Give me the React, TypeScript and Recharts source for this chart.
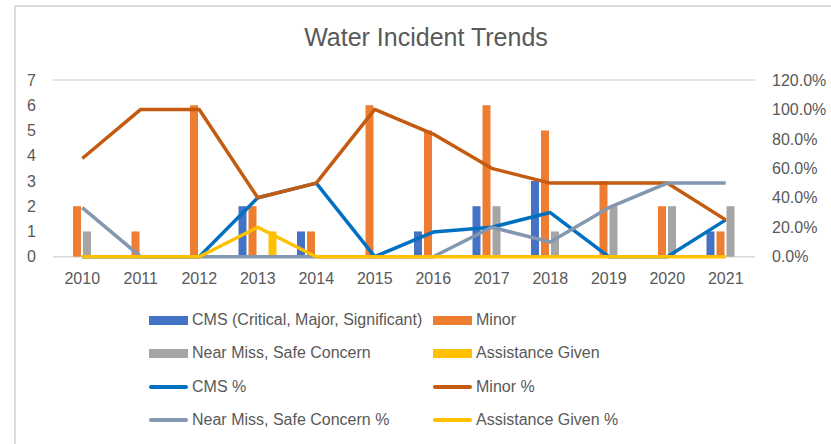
import React from 'react';
import { ComposedChart, Bar, Line, XAxis, YAxis, CartesianGrid } from 'recharts';

const fontFamily = '"Liberation Sans", Arial, sans-serif';
const textColor = "#595959";
const gridColor = "#d9d9d9";

const years = ["2010", "2011", "2012", "2013", "2014", "2015", "2016", "2017", "2018", "2019", "2020", "2021"];
const cms = [0, 0, 0, 2, 1, 0, 1, 2, 3, 0, 0, 1];
const minor = [2, 1, 6, 2, 1, 6, 5, 6, 5, 3, 2, 1];
const nearMiss = [1, 0, 0, 0, 0, 0, 0, 2, 1, 2, 2, 2];
const assistance = [0, 0, 0, 1, 0, 0, 0, 0, 0, 0, 0, 0];
const cmsPct = [0, 0, 0, 0.4, 0.5, 0, 0.167, 0.2, 0.3, 0, 0, 0.25];
const minorPct = [0.667, 1, 1, 0.4, 0.5, 1, 0.833, 0.6, 0.5, 0.5, 0.5, 0.25];
const nearMissPct = [0.333, 0, 0, 0, 0, 0, 0, 0.2, 0.1, 0.333, 0.5, 0.5];
const assistancePct = [0, 0, 0, 0.2, 0, 0, 0, 0, 0, 0, 0, 0];

const countTicks = [0, 1, 2, 3, 4, 5, 6, 7];
const pctTicks = [0, 0.2, 0.4, 0.6, 0.8, 1.0, 1.2];

const data = years.map((year, i) => ({
  year,
  cms: cms[i],
  minor: minor[i],
  nearMiss: nearMiss[i],
  assistance: assistance[i],
  cmsPct: cmsPct[i],
  minorPct: minorPct[i],
  nearMissPct: nearMissPct[i],
  assistancePct: assistancePct[i],
}));

const series = [
  { key: "cms", name: "CMS (Critical, Major, Significant)", color: "#4472C4", kind: "bar" },
  { key: "minor", name: "Minor", color: "#ED7D31", kind: "bar" },
  { key: "nearMiss", name: "Near Miss, Safe Concern", color: "#A5A5A5", kind: "bar" },
  { key: "assistance", name: "Assistance Given", color: "#FFC000", kind: "bar" },
  { key: "cmsPct", name: "CMS %", color: "#0070C0", kind: "line" },
  { key: "minorPct", name: "Minor %", color: "#C55A11", kind: "line" },
  { key: "nearMissPct", name: "Near Miss, Safe Concern %", color: "#8497B0", kind: "line" },
  { key: "assistancePct", name: "Assistance Given %", color: "#FFC000", kind: "line" },
];

const tickStyle = { fill: textColor, fontSize: 16, fontFamily };

const LegendBlock = () => (
  <div style={{ position: 'absolute', left: 0, top: 0 }}>
    {series.map((s, i) => {
      const row = Math.floor(i / 2);
      const col = i % 2;
      const cy = [320, 353, 387, 420][row];
      const iconLeft = col === 0 ? 149 : 433;
      const textLeft = col === 0 ? 192 : 476;
      const isLine = s.kind === "line";
      const h = isLine ? 4 : 9;
      return (
        <React.Fragment key={s.key}>
          <div style={{
            position: 'absolute', left: iconLeft, top: cy - h / 2, width: 39, height: h,
            background: s.color, borderRadius: isLine ? 2 : 0,
          }} />
          <div style={{
            position: 'absolute', left: textLeft, top: cy - 10, height: 20, lineHeight: '20px',
            fontSize: 16, color: textColor, whiteSpace: 'nowrap', fontFamily,
          }}>{s.name}</div>
        </React.Fragment>
      );
    })}
  </div>
);

export default function App() {
  return (
    <div style={{ position: 'absolute', left: 0, top: 0, width: 831, height: 444, background: '#fff', overflow: 'hidden', fontFamily }}>
      <div style={{
        position: 'absolute', left: 14, top: 5, width: 900, height: 500,
        borderLeft: '2px solid #dcdcdc', borderTop: '2px solid #dcdcdc',
      }} />
      <div style={{
        position: 'absolute', left: 0, width: 852, top: 22, textAlign: 'center',
        fontSize: 25, color: textColor, lineHeight: '30px',
      }}>Water Incident Trends</div>
      <div style={{ position: 'absolute', left: 0, top: 0 }}>
        <ComposedChart
          width={831}
          height={444}
          data={data}
          barSize={8}
          barGap={2}
          margin={{ top: 80, right: 0, bottom: 150, left: 0 }}
        >
          <CartesianGrid horizontal vertical={false} stroke={gridColor} strokeWidth={1.5} />
          <XAxis dataKey="year" axisLine={false} tickLine={false} tickMargin={10} tick={tickStyle} height={37.3} interval={0} />
          <YAxis yAxisId="count" orientation="left" width={53} domain={[0, 7]} ticks={countTicks}
            axisLine={false} tickLine={false} tickMargin={11} tick={tickStyle} />
          <YAxis yAxisId="pct" orientation="right" width={76} domain={[0, 1.2]} ticks={pctTicks}
            axisLine={false} tickLine={false} tickMargin={11} tick={{ ...tickStyle, textAnchor: 'start' }}
            tickFormatter={(v: number) => `${(v * 100).toFixed(1)}%`} />
          {series.filter(s => s.kind === "bar").map(s => (
            <Bar key={s.key} yAxisId="count" dataKey={s.key} name={s.name} fill={s.color} isAnimationActive={false} />
          ))}
          {series.filter(s => s.kind === "line").map(s => (
            <Line key={s.key} yAxisId="pct" type="linear" dataKey={s.key} name={s.name} stroke={s.color}
              strokeWidth={3.5} strokeLinejoin="round" dot={false} activeDot={false} isAnimationActive={false} />
          ))}
        </ComposedChart>
      </div>
      <LegendBlock />
    </div>
  );
}
